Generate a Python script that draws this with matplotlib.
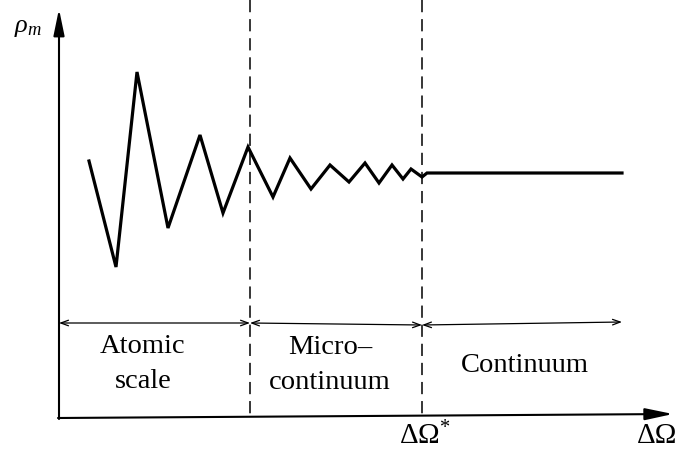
import matplotlib
matplotlib.use("Agg")
import matplotlib.pyplot as plt

plt.rcParams["font.family"] = ["Liberation Serif", "DejaVu Serif"]
plt.rcParams["mathtext.fontset"] = "custom"
plt.rcParams["mathtext.rm"] = "Liberation Serif"
plt.rcParams["mathtext.it"] = "Liberation Serif:italic"

# zigzag density profile (canvas units, y grows downward)
zig_x = [89, 116, 137, 168, 200, 223, 248, 273, 290, 311, 330, 349, 365,
         379, 392, 403, 411, 422, 427, 622]
zig_y = [161, 267, 72, 228, 135, 213, 147, 197, 158, 189, 165, 182, 163,
         183, 165, 179, 169, 177, 173, 173]

# scale boundaries
bounds_x = [250, 422]
region_labels = ["Atomic\nscale", "Micro\u2013\ncontinuum", "Continuum"]
label_x = [143, 330, 525]
label_y = [364, 365, 365]

fig = plt.figure(figsize=(6.8, 4.59), dpi=100)
ax = fig.add_axes([0, 0, 1, 1])
ax.set_xlim(0, 680)
ax.set_ylim(459, 0)
ax.axis("off")

# axes with filled arrow heads
ax.annotate("", xy=(59, 9), xytext=(59, 419),
            arrowprops=dict(arrowstyle="-|>,head_length=1.6,head_width=0.33",
                            lw=1.5, color="k", shrinkA=0, shrinkB=0,
                            mutation_scale=10))
ax.annotate("", xy=(673, 414), xytext=(58, 418),
            arrowprops=dict(arrowstyle="-|>,head_length=1.7,head_width=0.36",
                            lw=1.5, color="k", shrinkA=0, shrinkB=0,
                            mutation_scale=10))

# dashed boundaries
for bx in bounds_x:
    ax.plot([bx, bx], [0, 417], color="k", lw=1.1, dashes=(8, 4.5))

# region double arrows
spans = [(59, 250, 323, 323), (250, 422, 323, 325), (422, 622, 325, 322)]
for x0, x1, y0, y1 in spans:
    ax.annotate("", xy=(x1, y1), xytext=(x0, y0),
                arrowprops=dict(arrowstyle="<->,head_length=0.55,head_width=0.2",
                                lw=0.9, color="k", shrinkA=0, shrinkB=0,
                                mutation_scale=10))

ax.plot(zig_x, zig_y, color="k", lw=2.3, solid_joinstyle="miter")

for lab, lx, ly in zip(region_labels, label_x, label_y):
    ax.text(lx, ly, lab, ha="center", va="center", fontsize=20.5,
            linespacing=1.5)

ax.text(28, 28, r"$\rho_m$", ha="center", va="center", fontsize=19)
ax.text(425, 436, "\u0394\u03a9$^{*}$", ha="center", va="center", fontsize=21)
ax.text(657, 436, "\u0394\u03a9", ha="center", va="center", fontsize=21)

fig.savefig("out.png", dpi=100)
